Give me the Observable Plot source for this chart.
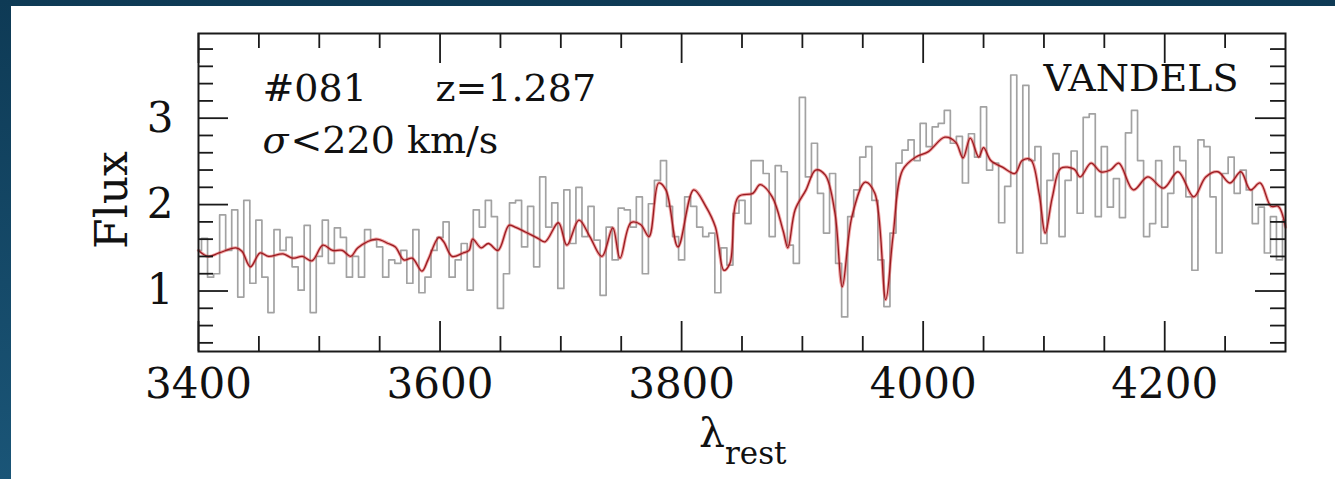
<!DOCTYPE html>
<html><head><meta charset="utf-8">
<script src="https://cdn.jsdelivr.net/npm/d3@7"></script>
<script src="https://cdn.jsdelivr.net/npm/@observablehq/plot@0.6"></script>
<style>
html,body{margin:0;padding:0;}
body{width:1335px;height:479px;overflow:hidden;position:relative;background:linear-gradient(to bottom,#0e3a55,#1a5577);}
#panel{position:absolute;left:11px;top:6px;width:1324px;height:473px;background:#fff;}
#chart{position:absolute;left:0;top:0;}
.lab{position:absolute;color:#111;font-family:"DejaVu Serif",serif;white-space:nowrap;line-height:1;}
#ylab{left:112px;top:200px;font-size:44px;transform:translate(-50%,-50%) rotate(-90deg);}
#xlab{left:699px;top:413px;font-size:41px;}
#xlab span{font-size:31px;position:relative;top:17px;}
</style></head><body>
<div id="panel"></div>
<div id="chart"></div>
<div class="lab" id="ylab">Flux</div>
<div class="lab" id="xlab">λ<span>rest</span></div>
<script>
// Observed spectrum (grey), sampled every 5 Å from 3400 to 4300
const greyStart = 3400, greyStep = 5;
const greyFlux = [
  1.47,1.61,1.16,1.20,1.88,1.47,1.94,0.93,2.05,1.09,
  1.82,1.16,0.75,1.71,1.47,1.62,1.28,1.01,1.76,0.75,
  1.40,1.82,1.32,1.73,1.62,1.16,1.40,1.16,1.71,1.59,
  1.51,1.16,1.36,1.32,1.47,1.09,1.71,0.98,1.16,1.47,
  1.62,1.80,1.16,1.36,1.55,1.01,1.94,1.74,
  2.05,1.86,0.80,1.20,2.02,2.05,1.51,1.98,1.28,2.32,
  1.74,2.02,1.03,2.17,1.55,2.20,1.63,1.98,1.59,0.95,
  1.74,1.36,1.96,1.94,1.74,2.09,1.20,2.01,2.28,2.51,
  1.98,1.63,1.36,2.09,1.98,1.74,1.63,1.67,0.98,1.50,
  1.30,1.90,2.05,1.78,2.51,
  2.51,2.36,1.63,2.45,2.38,1.53,1.32,3.24,2.32,2.71,
  2.13,1.67,2.36,1.32,0.70,1.86,2.17,2.55,2.67,2.05,
  1.36,0.82,1.67,2.48,2.63,2.75,2.51,2.94,2.67,2.90,
  2.94,3.09,2.71,2.79,2.25,2.82,2.55,3.13,2.40,2.48,
  1.79,2.21,3.50,1.44,3.38,2.51,2.67,
  1.55,2.28,2.59,1.63,2.28,2.62,1.90,3.01,3.05,1.86,
  2.67,1.97,2.30,1.85,2.83,3.09,2.51,1.63,1.78,2.51,
  1.74,2.13,2.67,2.51,2.09,1.24,2.75,2.67,2.09,1.44,
  2.36,2.55,2.13,2.40,2.17,1.78,1.97,1.44,1.86,1.36,
  1.82
];
// Model fit (red)
const modelWave = [3400,3408,3417,3431,3436,3443,3451,3458,3470,3478,3486,3494,3503,3511,3519,3526,3532,3547,3557,3563,3570,3577,3585,3590,3599,3603,3610,3619,3624,3627,3634,3640,3648,3657,3662,3671,3681,3687,3698,3705,3715,3724,3734,3743,3749,3758,3766,3773,3781,3787,3797,3810,3820,3828,3835,3840,3847,3859,3865,3875,3884,3888,3894,3903,3911,3919,3927,3933,3941,3952,3960,3969,3975,3983,3994,4004,4018,4027,4033,4039,4046,4050,4056,4066,4076,4082,4089,4096,4101,4107,4114,4125,4130,4139,4147,4155,4162,4174,4186,4199,4211,4224,4234,4244,4254,4263,4271,4279,4288,4294,4300];
const modelFlux = [1.47,1.40,1.44,1.50,1.46,1.28,1.44,1.40,1.43,1.38,1.40,1.35,1.53,1.47,1.47,1.40,1.50,1.60,1.55,1.51,1.36,1.38,1.23,1.36,1.62,1.57,1.40,1.44,1.47,1.60,1.50,1.55,1.47,1.76,1.74,1.68,1.61,1.57,1.79,1.53,1.82,1.63,1.40,1.73,1.38,1.79,1.77,1.63,2.25,2.17,1.51,2.17,1.98,1.74,1.24,1.32,2.09,2.13,2.23,2.09,1.70,1.50,1.94,2.17,2.40,2.34,1.90,1.05,1.86,2.26,2.13,0.90,1.63,2.40,2.55,2.61,2.78,2.72,2.54,2.77,2.55,2.66,2.51,2.43,2.36,2.51,2.52,2.13,1.67,2.09,2.42,2.41,2.32,2.48,2.38,2.40,2.48,2.17,2.32,2.19,2.38,2.09,2.32,2.38,2.25,2.38,2.17,2.25,1.98,1.98,1.74];
// Axes
const xMajor = [3400,3600,3800,4000,4200];
const xMinor = [3450,3500,3550,3650,3700,3750,3850,3900,3950,4050,4100,4150,4250];
const yMajor = [1,2,3];
const yMinor = [0.4,0.6,0.8,1.2,1.4,1.6,1.8,2.2,2.4,2.6,2.8,3.2,3.4,3.6,3.8];

const grey = greyFlux.map((f,i)=>({w:greyStart+i*greyStep,f}));
const model = modelWave.map((w,i)=>({w,f:modelFlux[i]}));

const W=1335,H=479,mL=198,mR=50,mT=33,mB=128;
const pW=W-mL-mR, pH=H-mT-mB;
const ink="#1a1a1a";
const ann={fontFamily:"DejaVu Serif",fontSize:38,fill:"#111",frameAnchor:"top-left",textAnchor:"start",lineAnchor:"middle"};

const chart = Plot.plot({
  width:W,height:H,marginLeft:mL,marginRight:mR,marginTop:mT,marginBottom:mB,
  style:{background:"transparent",fontFamily:"DejaVu Serif",fontSize:"42px",color:"#111",overflow:"visible"},
  x:{domain:[3400,4300],label:null},
  y:{domain:[0.3,3.98],label:null},
  marks:[
    Plot.line(grey,{x:"w",y:"f",curve:"step",stroke:"#a2a2a2",strokeWidth:1.7}),
    Plot.line(model,{x:"w",y:"f",curve:"catmull-rom",stroke:"#e04848",strokeWidth:3.2,strokeOpacity:0.5}),
    Plot.line(model,{x:"w",y:"f",curve:"catmull-rom",stroke:"#9a1a20",strokeWidth:1.3}),
    Plot.tickX(xMajor,{x:d=>d,insetTop:pH-30,stroke:ink,strokeWidth:1.8}),
    Plot.tickX(xMajor,{x:d=>d,insetBottom:pH-30,stroke:ink,strokeWidth:1.8}),
    Plot.tickX(xMinor,{x:d=>d,insetTop:pH-15,stroke:ink,strokeWidth:1.8}),
    Plot.tickX(xMinor,{x:d=>d,insetBottom:pH-15,stroke:ink,strokeWidth:1.8}),
    Plot.tickY(yMajor,{y:d=>d,insetRight:pW-30,stroke:ink,strokeWidth:1.8}),
    Plot.tickY(yMajor,{y:d=>d,insetLeft:pW-30,stroke:ink,strokeWidth:1.8}),
    Plot.tickY(yMinor,{y:d=>d,insetRight:pW-15,stroke:ink,strokeWidth:1.8}),
    Plot.tickY(yMinor,{y:d=>d,insetLeft:pW-15,stroke:ink,strokeWidth:1.8}),
    Plot.frame({stroke:ink,strokeWidth:2}),
    Plot.axisX({ticks:xMajor,tickSize:0,tickPadding:17,tickFormat:d=>String(d),fontSize:42,fill:"#111",label:null}),
    Plot.axisY({ticks:yMajor,tickSize:0,tickPadding:25,tickFormat:d=>String(d),fontSize:42,fill:"#111",label:null}),
    Plot.text(["#081"],{...ann,dx:64,dy:55}),
    Plot.text(["z=1.287"],{...ann,dx:237,dy:55}),
    Plot.text(["σ"],{...ann,dx:64,dy:107,fontStyle:"italic"}),
    Plot.text(["<220 km/s"],{...ann,dx:92,dy:107}),
    Plot.text(["VANDELS"],{...ann,frameAnchor:"top-right",textAnchor:"end",dx:-47,dy:45})
  ]
});
document.getElementById("chart").appendChild(chart);
</script>
</body></html>
